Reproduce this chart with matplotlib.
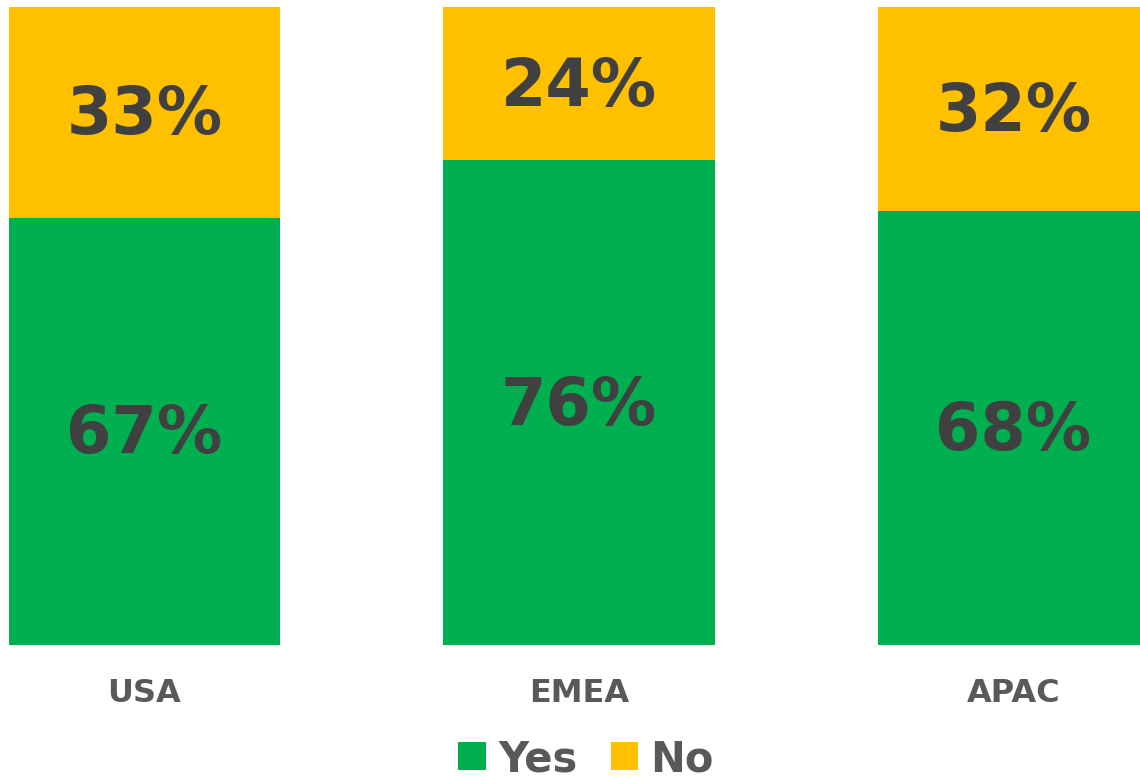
import matplotlib
matplotlib.use("Agg")
import matplotlib.pyplot as plt
import numpy as np

regions = ["USA", "EMEA", "APAC"]
yes_pct = [67, 76, 68]
no_pct = [33, 24, 32]

GREEN = "#00B050"
AMBER = "#FFC000"
DARK = "#404040"
GREY = "#595959"

plt.rcParams["font.family"] = ["DejaVu Sans"]

fig = plt.figure(figsize=(11.4, 7.78), dpi=100)
ax = fig.add_axes([0, 133 / 778, 1, 638 / 778])

x = np.arange(len(regions))
yes = np.array(yes_pct)
no = np.array(no_pct)

b1 = ax.bar(x, yes, width=0.626, color=GREEN, label="Yes")
b2 = ax.bar(x, no, bottom=yes, width=0.626, color=AMBER, label="No")

# percentage labels centred in each segment
for xi, y, n in zip(x, yes, no):
    ax.annotate(f"{y}%", (xi, y / 2), xytext=(0, -3), textcoords="offset points",
                ha="center", va="center", fontsize=47, fontweight="bold", color=DARK)
    ax.annotate(f"{n}%", (xi, y + n / 2), xytext=(0, -3), textcoords="offset points",
                ha="center", va="center", fontsize=47, fontweight="bold", color=DARK)

ax.set_xlim(-144.5 / 434.5, (1140 - 144.5) / 434.5)
ax.set_ylim(0, 100)
ax.set_xticks(x)
ax.set_xticklabels(regions, fontsize=23, fontweight="bold", color=GREY)
ax.tick_params(axis="x", length=0, pad=24)
ax.set_yticks([])
for s in ax.spines.values():
    s.set_visible(False)

leg = fig.legend(handles=[b1, b2], labels=["Yes", "No"], loc="center",
                 bbox_to_anchor=(586 / 1140, 1 - 759 / 778), ncol=2, frameon=False,
                 handlelength=0.65, handleheight=0.65, handletextpad=0.3,
                 columnspacing=0.8, borderpad=0,
                 prop={"size": 30, "weight": "bold"})
for t in leg.get_texts():
    t.set_color(GREY)

fig.savefig("out.png", dpi=100)
